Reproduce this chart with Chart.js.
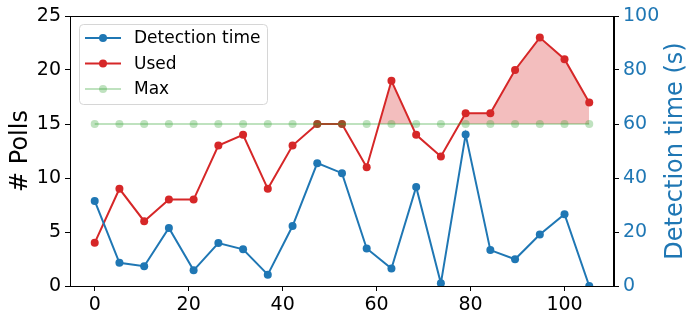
<!DOCTYPE html>
<html>
<head>
<meta charset="utf-8">
<script src="https://cdn.jsdelivr.net/npm/chart.js@4/dist/chart.umd.min.js"></script>
<style>
    html, body { margin: 0; padding: 0; background: #fff; }
    canvas { display: block; }
</style>
</head>
<body>
<canvas id="chart" width="698" height="323"></canvas>
<script>
// data
const xValues = [0, 5.26, 10.53, 15.79, 21.05, 26.32, 31.58, 36.84, 42.11, 47.37, 52.63,
                 57.89, 63.16, 68.42, 73.68, 78.95, 84.21, 89.47, 94.74, 100, 105.26];
const detectionTime = [31.5, 8.6, 7.3, 21.5, 5.8, 15.9, 13.6, 4.2, 22.2, 45.5, 41.8,
                       13.9, 6.5, 36.7, 1.0, 56.1, 13.3, 9.9, 19.1, 26.6, 0];
const used = [4, 9, 6, 8, 8, 13, 14, 9, 13, 15, 15, 11, 19, 14, 12, 16, 16, 20, 23, 21, 17];
const maxPolls = [15, 15, 15, 15, 15, 15, 15, 15, 15, 15, 15, 15, 15, 15, 15, 15, 15, 15, 15, 15, 15];
const xTicks = [0, 20, 40, 60, 80, 100];
const leftTicks = [0, 5, 10, 15, 20, 25];
const rightTicks = [0, 20, 40, 60, 80, 100];

const FONT = '"DejaVu Sans", sans-serif';
const BLUE = '#1f77b4';
const RED = '#d62728';
const GREEN = 'rgba(44,160,44,0.3)';

const toPoints = vals => vals.map((v, i) => ({ x: xValues[i], y: v }));

// box around the plot, right axis title and the legend
const extras = {
    id: 'extras',
    afterDraw(chart) {
        const { ctx, chartArea: a } = chart;
        ctx.save();
        ctx.strokeStyle = '#000';
        ctx.lineWidth = 1;
        ctx.strokeRect(a.left + 0.5, a.top + 0.5, a.right - a.left - 1, a.bottom - a.top);

        // right axis title, reading upwards as in matplotlib
        ctx.translate(676, (a.top + a.bottom) / 2);
        ctx.rotate(-Math.PI / 2);
        ctx.fillStyle = BLUE;
        ctx.font = '24px ' + FONT;
        ctx.textAlign = 'center';
        ctx.textBaseline = 'middle';
        ctx.fillText('Detection time (s)', 0, 0);
        ctx.restore();

        // legend
        ctx.save();
        const bx = 79.5, by = 24.5, bw = 188, bh = 80;
        ctx.beginPath();
        ctx.roundRect(bx, by, bw, bh, 4);
        ctx.fillStyle = 'rgba(255,255,255,0.8)';
        ctx.fill();
        ctx.strokeStyle = '#d6d6d6';
        ctx.stroke();
        ctx.font = '17px ' + FONT;
        ctx.textBaseline = 'middle';
        chart.data.datasets.forEach((ds, i) => {
            const y = 38 + i * 25.5;
            ctx.strokeStyle = ds.borderColor;
            ctx.lineWidth = 2;
            ctx.beginPath();
            ctx.moveTo(85, y);
            ctx.lineTo(121, y);
            ctx.stroke();
            ctx.fillStyle = ds.borderColor;
            ctx.beginPath();
            ctx.arc(103, y, 4, 0, Math.PI * 2);
            ctx.fill();
            ctx.fillStyle = '#000';
            ctx.fillText(ds.label, 134, y + 1);
        });
        ctx.restore();
    }
};

new Chart(document.getElementById('chart'), {
    type: 'line',
    data: {
        datasets: [
            {
                label: 'Detection time',
                data: toPoints(detectionTime),
                yAxisID: 'y1',
                borderColor: BLUE,
                backgroundColor: BLUE,
                order: 0
            },
            {
                label: 'Used',
                data: toPoints(used),
                yAxisID: 'y',
                borderColor: RED,
                backgroundColor: RED,
                fill: { target: 2, above: 'rgba(214,39,40,0.3)', below: 'rgba(0,0,0,0)' },
                order: 2
            },
            {
                label: 'Max',
                data: toPoints(maxPolls),
                yAxisID: 'y',
                borderColor: GREEN,
                backgroundColor: GREEN,
                order: 1
            }
        ]
    },
    options: {
        responsive: false,
        animation: false,
        layout: { padding: { top: 16, left: 0, right: 0, bottom: 0 } },
        elements: {
            line: { borderWidth: 2, tension: 0 },
            point: { radius: 4, borderWidth: 0, hoverRadius: 4 }
        },
        plugins: {
            legend: { display: false },
            tooltip: { enabled: false }
        },
        scales: {
            x: {
                type: 'linear',
                min: -5.26,
                max: 110.53,
                afterBuildTicks: s => { s.ticks = xTicks.map(v => ({ value: v })); },
                afterFit: s => { s.height = 37; },
                border: { color: '#000', width: 1 },
                grid: { drawOnChartArea: false, drawTicks: true, tickLength: 5, color: '#000' },
                ticks: { color: '#000', font: { size: 19, family: FONT }, padding: 3, maxRotation: 0 }
            },
            y: {
                position: 'left',
                min: 0,
                max: 25,
                afterBuildTicks: s => { s.ticks = leftTicks.map(v => ({ value: v })); },
                afterFit: s => { s.width = 70; },
                border: { color: '#000', width: 1 },
                grid: { drawOnChartArea: false, drawTicks: true, tickLength: 5, color: '#000' },
                ticks: { color: '#000', font: { size: 19, family: FONT }, padding: 4 },
                title: {
                    display: true,
                    text: '# Polls',
                    color: '#000',
                    font: { size: 24, family: FONT },
                    padding: { top: 6, bottom: 0 }
                }
            },
            y1: {
                position: 'right',
                min: 0,
                max: 100,
                afterBuildTicks: s => { s.ticks = rightTicks.map(v => ({ value: v })); },
                afterFit: s => { s.width = 84; },
                border: { color: '#000', width: 1 },
                grid: { drawOnChartArea: false, drawTicks: true, tickLength: 5, color: '#000' },
                ticks: { color: BLUE, font: { size: 19, family: FONT }, padding: 4 }
            }
        }
    },
    plugins: [extras]
});
</script>
</body>
</html>
